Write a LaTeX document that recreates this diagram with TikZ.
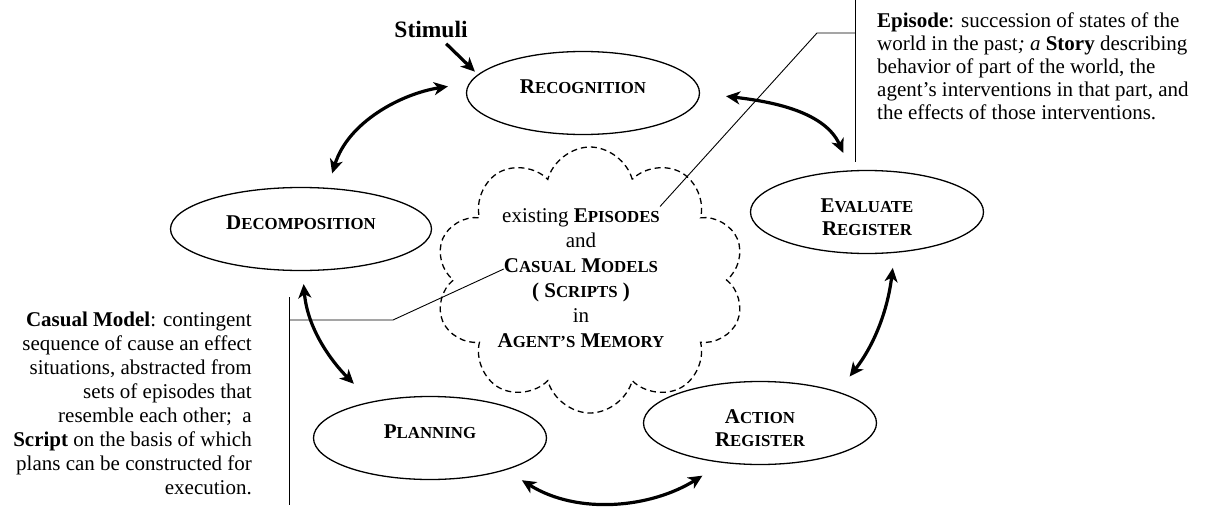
\documentclass[tikz,border=0pt]{standalone}
\usepackage{fontspec}
\setmainfont{Liberation Serif}
\usetikzlibrary{arrows.meta,positioning,shapes.geometric,shapes.symbols}

\newcommand\capsc[2]{#1{\fontsize{16.8}{18}\selectfont #2}}

\begin{document}
\begin{tikzpicture}[x=1pt,y=1pt,
  stage/.style={ellipse,draw,line width=1.3pt,minimum width=233pt,minimum height=83pt,
    inner sep=0pt,align=center,text height=20pt,text depth=20pt,
    font=\bfseries\fontsize{21}{23}\selectfont},
  stage2/.style={stage,text height=46pt,text depth=0pt},
  link/.style={line width=3.2pt,{Stealth[length=14pt,width=13pt,inset=4pt]}-{Stealth[length=14pt,width=13pt,inset=4pt]}},
  memline/.style={inner sep=0pt,text height=16pt,text depth=8.6pt,font=\fontsize{21}{23}\selectfont},
  note/.style={inner sep=0pt,font=\fontsize{21}{24}\selectfont},
  leader/.style={line width=0.9pt}]
\useasboundingbox (0,0) rectangle (1218,-506);

% stages of the cycle
\node[stage] (recog) at (583,-93) {\capsc{R}{ECOGNITION}};
\node[stage,minimum width=261pt] (decomp) at (301,-229) {\capsc{D}{ECOMPOSITION}};
\node[stage2] (eval) at (867,-212) {\capsc{E}{VALUATE}\\\capsc{R}{EGISTER}};
\node[stage2] (action) at (760,-423) {\capsc{A}{CTION}\\\capsc{R}{EGISTER}};
\node[stage] (plan) at (430,-438) {\capsc{P}{LANNING}};

% memory cloud
\node[cloud,draw,line width=1.3pt,dash pattern=on 6pt off 4pt,cloud puffs=10,cloud puff arc=150,
  cloud ignores aspect,minimum width=310pt,minimum height=266pt] (memory) at (590,-280) {};
\node[memline] (epis) at (581,-219) {existing \textbf{\capsc{E}{PISODES}}};
\node[memline,below=0pt of epis] (mand) {and};
\node[memline,below=0pt of mand] (causal) {\textbf{\capsc{C}{ASUAL} \capsc{M}{ODELS}}};
\node[memline,below=0pt of causal] (scripts) {\textbf{( \capsc{S}{CRIPTS} )}};
\node[memline,below=0pt of scripts] (min) {in};
\node[memline,below=0pt of min] (agent) {\textbf{\capsc{A}{GENT'S} \capsc{M}{EMORY}}};

% input
\node[inner sep=0pt,font=\bfseries\fontsize{23.5}{26}\selectfont] (stimuli) at (431,-29) {Stimuli};
\draw[line width=3.2pt,-{Stealth[length=14pt,width=13pt,inset=4pt]},shorten <=9pt,shorten >=4pt]
  (stimuli) -- (recog.170);

% cycle arrows
\draw[link,shorten <=15pt,shorten >=21.5pt] (decomp.57) to[out=73,in=189] (recog.175);
\draw[link,shorten <=26pt,shorten >=19pt] (recog.east) to[out=-7,in=114] (eval.111);
\draw[link,shorten <=15pt,shorten >=19pt] (eval.-56) to[out=-97,in=52] (action.22);
\draw[link,shorten <=19pt,shorten >=24pt] (plan.-23) to[out=-32,in=212] (action.-133);
\draw[link,shorten <=13pt,shorten >=25pt] (decomp.-88) to[out=-85,in=135] (plan.148);

% episode note
\node[note,font=\fontsize{21}{23}\selectfont,align=left,anchor=base west] (episode) at (877,-119.5)
  {\textbf{Episode}: succession of states of the\\
   world in the past\textit{; a} \textbf{Story} describing\\
   behavior of part of the world, the\\
   agent's interventions in that part, and\\
   the effects of those interventions.};
\coordinate (epitop) at (855,0);
\coordinate (epibot) at (855,-162);
\coordinate (epiknee) at (817,-33);
\draw[leader] (epitop) -- (epibot);
\draw[leader] (epitop |- epiknee) -- (epiknee) -- (epis.north east);

% casual model note
\node[note,align=right,anchor=base east] (casual) at (252,-494)
  {\textbf{Casual Model}: contingent\\
   sequence of cause an effect\\
   situations, abstracted from\\
   sets of episodes that\\
   resemble each other;~ a\\
   \textbf{Script} on the basis of which\\
   plans can be constructed for\\
   execution.};
\coordinate (castop) at (289,-297);
\coordinate (casbot) at (289,-505);
\coordinate (casknee) at (393,-320);
\draw[leader] (castop) -- (casbot);
\draw[leader] (castop |- casknee) -- (casknee) -- (causal.west);
\end{tikzpicture}
\end{document}
